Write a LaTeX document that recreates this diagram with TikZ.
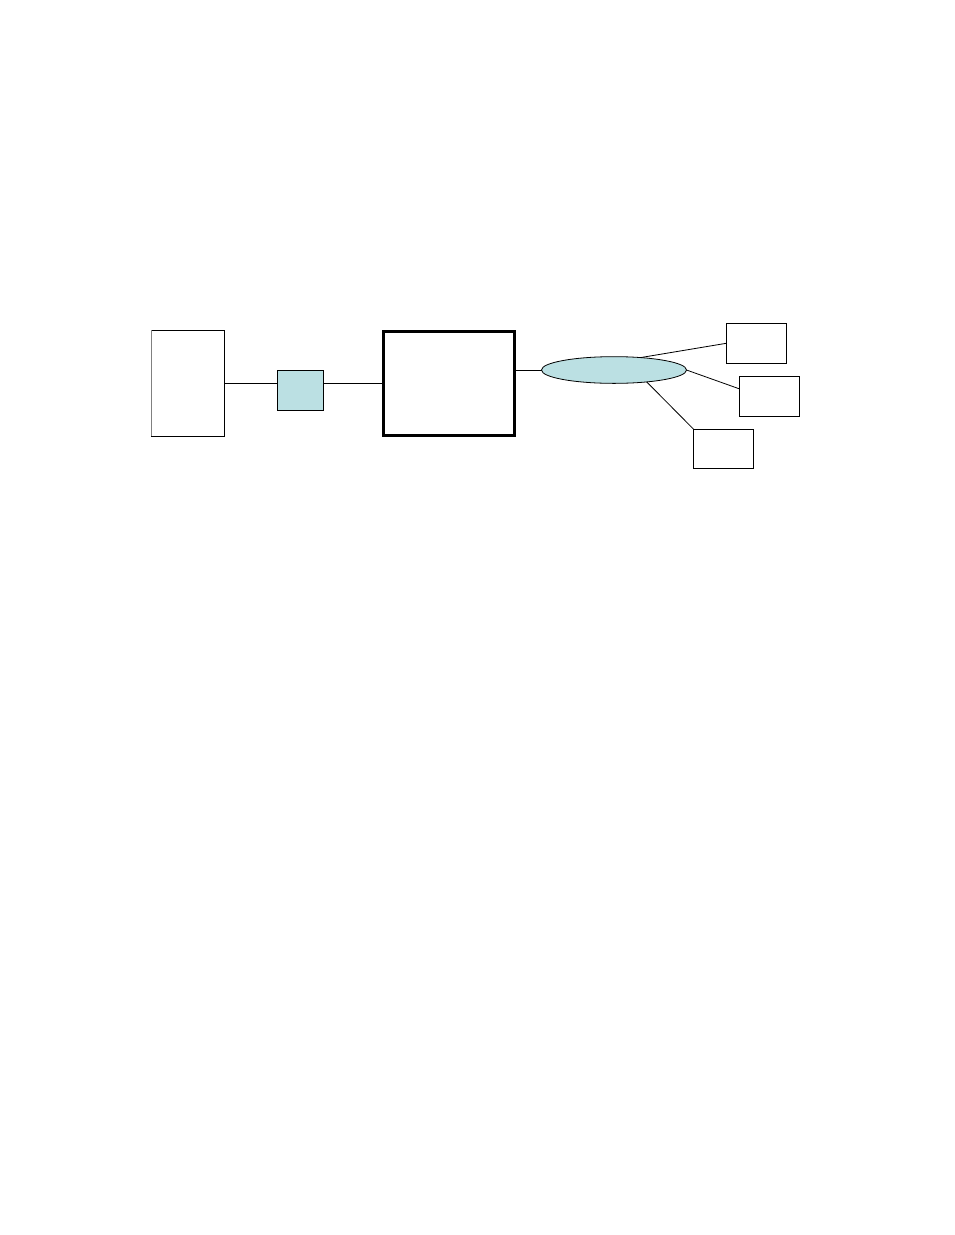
\documentclass[tikz,border=0pt]{standalone}
\usepackage{tikz}
\usetikzlibrary{shapes,calc}
\definecolor{paleteal}{RGB}{187,224,227}

\begin{document}
\begin{tikzpicture}[x=1pt,y=-1pt,line width=0.8pt,
    every node/.style={inner sep=0,outer sep=0},
    unit/.style={draw,rectangle,minimum width=60pt,minimum height=40pt}]
    \useasboundingbox (0,0) rectangle (954,1235);
    \node[unit,minimum width=73pt,minimum height=106pt](h1) at (188,383) {};
    \draw[gray] (h1.north west)--(h1.south west);
    \node[unit,fill=paleteal,minimum width=45.5pt](m1) at (300.25,390) {};
    \node[unit,line width=3pt,minimum width=131pt,minimum height=103.7pt](c1) at (449,383.3) {};
    \node[draw,ellipse,fill=paleteal,minimum width=145pt,minimum height=26.7pt](n1) at (614,370) {};
    \node[unit](t1) at (756.3,343.3) {};
    \node[unit](t2) at (769.3,396.3) {};
    \node[unit,minimum height=38.7pt](t3) at (723.7,448.7) {};
    \draw (h1.east) -- (h1.east -| m1.west);
    \draw (c1.west -| m1.east) -- (c1.west);
    \draw (n1.west -| c1.east) -- (n1.west);
    \draw (n1.25) -- (t1.west);
    \draw (n1.east) -- (t2.166);
    \draw (n1.-20) -- (t3.north west);
\end{tikzpicture}
\end{document}
